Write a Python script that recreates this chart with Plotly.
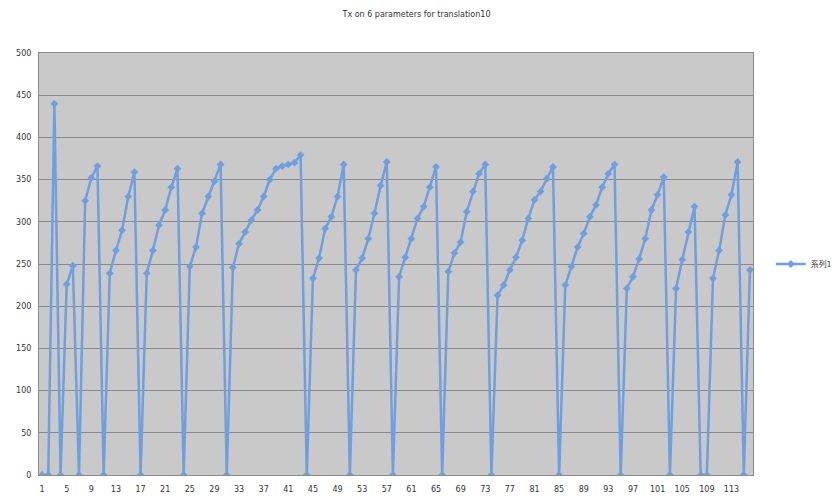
import plotly.graph_objects as go

# Tx readings per sample index (1..116)
samples = list(range(1, 117))
tx_values = [
    0, 0, 440, 0, 226, 248, 0, 325, 352, 366,
    0, 239, 266, 290, 330, 359, 0, 239, 266, 296,
    314, 341, 363, 0, 247, 270, 310, 330, 348, 368,
    0, 246, 274, 288, 302, 314, 330, 350, 363, 366,
    368, 370, 379, 0, 233, 257, 292, 306, 330, 368,
    0, 243, 257, 280, 310, 343, 371, 0, 235, 258,
    280, 304, 318, 341, 365, 0, 241, 263, 276, 312,
    336, 357, 368, 0, 213, 225, 243, 258, 278, 304,
    326, 336, 351, 365, 0, 225, 247, 270, 286, 306,
    320, 341, 357, 368, 0, 221, 235, 256, 280, 314,
    332, 353, 0, 221, 255, 288, 318, 0, 0, 233,
    266, 308, 332, 371, 0, 243,
]
x_tick_values = list(range(1, 117, 4))
y_tick_values = list(range(0, 501, 50))

series_name = "系列1"
chart_title = "Tx on 6 parameters for translation10"

line_color = "#6f9fe0"

fig = go.Figure(
    go.Scatter(
        x=samples,
        y=tx_values,
        mode="lines+markers",
        name=series_name,
        line=dict(color=line_color, width=2.5),
        marker=dict(symbol="diamond", size=6, color=line_color),
        showlegend=True,
    )
)

fig.update_layout(
    width=833,
    height=498,
    margin=dict(l=39, r=80, t=53, b=23, autoexpand=False),
    paper_bgcolor="white",
    plot_bgcolor="#c9c9c9",
    font=dict(family="DejaVu Sans, Arial, sans-serif", size=8, color="#333333"),
    title=dict(
        text=chart_title,
        x=0.5,
        xanchor="center",
        y=0.972,
        yanchor="middle",
        font=dict(size=8, color="#333333"),
    ),
    legend=dict(
        x=1.025,
        y=0.5,
        xanchor="left",
        yanchor="middle",
        bgcolor="rgba(0,0,0,0)",
        font=dict(size=8, family="Noto Sans CJK JP, sans-serif", color="#333333"),
        itemwidth=30,
    ),
    showlegend=True,
)

fig.update_xaxes(
    range=[0.5, 116.5],
    tickmode="array",
    tickvals=x_tick_values,
    ticktext=[str(v) for v in x_tick_values],
    showgrid=False,
    zeroline=False,
    showline=True,
    linecolor="#8c8c8c",
    linewidth=1,
    mirror=True,
    ticks="",
    tickangle=0,
    ticklabelstandoff=6,
    automargin=False,
    tickfont=dict(size=8),
)

fig.update_yaxes(
    range=[0, 500],
    tickmode="array",
    tickvals=y_tick_values,
    showgrid=True,
    gridcolor="#8a8a8a",
    gridwidth=1,
    zeroline=False,
    showline=True,
    linecolor="#8c8c8c",
    linewidth=1,
    mirror=True,
    ticks="",
    ticklabelstandoff=5,
    automargin=False,
    tickfont=dict(size=8),
)

fig.write_html("out.html")
